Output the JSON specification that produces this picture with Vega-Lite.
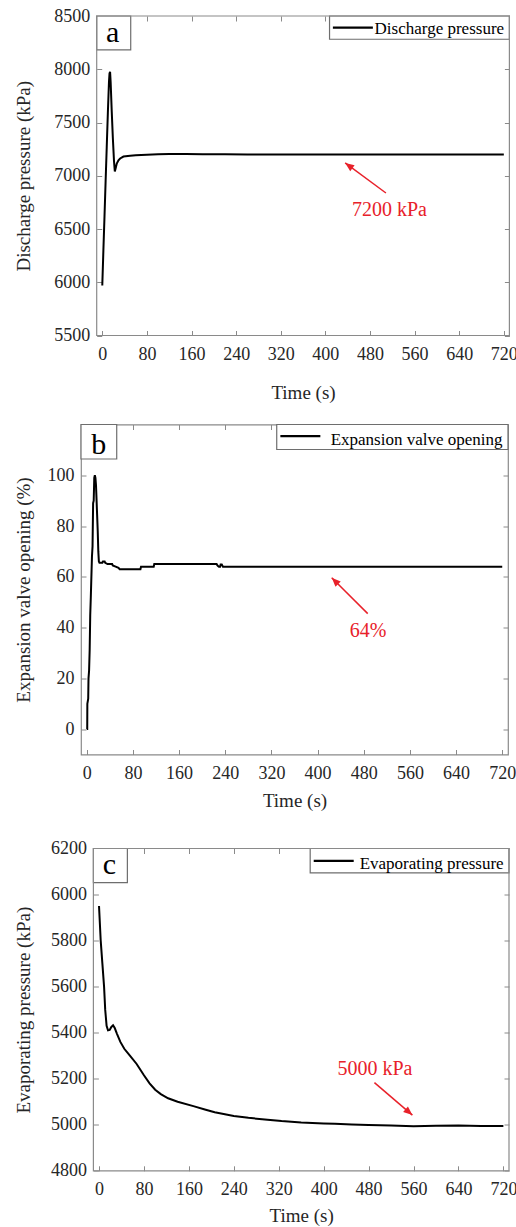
{
  "$schema": "https://vega.github.io/schema/vega-lite/v6.json",
  "background": "white",
  "padding": {"left": 13, "top": 7, "right": 5, "bottom": 5},
  "config": {
    "font": "Liberation Serif",
    "view": {"stroke": "#8a8a8a", "strokeWidth": 1.2},
    "axis": {"grid": false, "domain": false, "tickColor": "#8a8a8a", "tickSize": -5, "tickWidth": 1,
      "labelFontSize": 18, "labelColor": "#262626", "labelFont": "Liberation Serif",
      "titleFontSize": 19, "titleFontWeight": "normal", "titleColor": "#262626", "titleFont": "Liberation Serif",
      "labelFlush": false, "labelOverlap": false, "format": "d"},
    "axisX": {"labelPadding": 15},
    "axisY": {"labelPadding": 12},
    "text": {"font": "Liberation Serif"}
  },
  "datasets": {
    "a": [
      {"t": 0, "v": 5970}, {"t": 2, "v": 6300}, {"t": 4, "v": 6620}, {"t": 6, "v": 6950}, {"t": 8, "v": 7270},
      {"t": 10, "v": 7590}, {"t": 12, "v": 7880}, {"t": 13, "v": 7960}, {"t": 14, "v": 7975}, {"t": 15, "v": 7880},
      {"t": 17, "v": 7600}, {"t": 19, "v": 7350}, {"t": 21, "v": 7140}, {"t": 22.5, "v": 7040}, {"t": 24, "v": 7070},
      {"t": 26, "v": 7115}, {"t": 29, "v": 7145}, {"t": 32, "v": 7162}, {"t": 38, "v": 7180}, {"t": 50, "v": 7188},
      {"t": 60, "v": 7192}, {"t": 80, "v": 7197}, {"t": 100, "v": 7201}, {"t": 120, "v": 7204}, {"t": 150, "v": 7204},
      {"t": 180, "v": 7202}, {"t": 220, "v": 7201}, {"t": 260, "v": 7200}, {"t": 300, "v": 7199}, {"t": 340, "v": 7200},
      {"t": 380, "v": 7200}, {"t": 420, "v": 7199}, {"t": 460, "v": 7200}, {"t": 500, "v": 7200}, {"t": 540, "v": 7199},
      {"t": 580, "v": 7200}, {"t": 620, "v": 7200}, {"t": 660, "v": 7199}, {"t": 700, "v": 7200}, {"t": 720, "v": 7200}
    ],
    "b": [
      {"t": 0, "v": 0}, {"t": 0.8, "v": 0}, {"t": 1, "v": 10}, {"t": 2.5, "v": 12}, {"t": 3, "v": 20}, {"t": 4, "v": 23},
      {"t": 5, "v": 31}, {"t": 6, "v": 45}, {"t": 7, "v": 52}, {"t": 8, "v": 60}, {"t": 9, "v": 68}, {"t": 10, "v": 72},
      {"t": 11, "v": 89}, {"t": 12, "v": 90}, {"t": 13, "v": 99}, {"t": 14, "v": 100}, {"t": 15, "v": 99}, {"t": 16, "v": 96},
      {"t": 17, "v": 90}, {"t": 18, "v": 84}, {"t": 19, "v": 78}, {"t": 20, "v": 70}, {"t": 21, "v": 66}, {"t": 22, "v": 65.5},
      {"t": 27, "v": 65.5}, {"t": 28, "v": 66}, {"t": 31, "v": 66}, {"t": 32, "v": 65.5}, {"t": 36, "v": 65}, {"t": 44, "v": 65},
      {"t": 45, "v": 64.5}, {"t": 50, "v": 64}, {"t": 55, "v": 63.5}, {"t": 57, "v": 63}, {"t": 93, "v": 63}, {"t": 94, "v": 64},
      {"t": 116, "v": 64}, {"t": 117, "v": 65}, {"t": 225, "v": 65}, {"t": 227, "v": 64.3}, {"t": 229, "v": 64}, {"t": 231, "v": 64},
      {"t": 232, "v": 64.8}, {"t": 234, "v": 64.8}, {"t": 236, "v": 64}, {"t": 720, "v": 64}
    ],
    "c": [
      {"t": 0, "v": 5950}, {"t": 3, "v": 5800}, {"t": 6, "v": 5700}, {"t": 9, "v": 5600}, {"t": 11, "v": 5500},
      {"t": 13.5, "v": 5430}, {"t": 16, "v": 5410}, {"t": 19, "v": 5412}, {"t": 22, "v": 5425}, {"t": 25, "v": 5432},
      {"t": 28, "v": 5420}, {"t": 32, "v": 5395}, {"t": 38, "v": 5360}, {"t": 45, "v": 5330}, {"t": 55, "v": 5300},
      {"t": 67, "v": 5264}, {"t": 80, "v": 5215}, {"t": 90, "v": 5180}, {"t": 100, "v": 5152}, {"t": 110, "v": 5133},
      {"t": 123, "v": 5115}, {"t": 140, "v": 5100}, {"t": 168, "v": 5081}, {"t": 190, "v": 5065}, {"t": 206, "v": 5054},
      {"t": 240, "v": 5038}, {"t": 266, "v": 5030}, {"t": 300, "v": 5022}, {"t": 325, "v": 5016}, {"t": 360, "v": 5010},
      {"t": 400, "v": 5006}, {"t": 420, "v": 5004}, {"t": 450, "v": 5001}, {"t": 480, "v": 4999}, {"t": 520, "v": 4997},
      {"t": 560, "v": 4994}, {"t": 600, "v": 4996}, {"t": 640, "v": 4997}, {"t": 680, "v": 4995}, {"t": 720, "v": 4995}
    ]
  },
  "spacing": 19.5,
  "vconcat": [
    {
      "width": 428.4, "height": 319.5,
      "view": {"stroke": null},
      "resolve": {"axis": {"x": "independent", "y": "independent"}},
      "layer": [
        {"data": {"name": "a"}, "mark": {"type": "line", "color": "black", "strokeWidth": 2},
          "encoding": {
            "x": {"field": "t", "type": "quantitative", "scale": {"domain": [-38.15, 730], "nice": false, "zero": false},
              "axis": {"orient": "bottom", "values": [0, 80, 160, 240, 320, 400, 480, 560, 640, 720], "title": "Time (s)", "titlePadding": 20.4, "titleX": 222}},
            "y": {"field": "v", "type": "quantitative", "scale": {"domain": [5500, 8500], "nice": false, "zero": false},
              "axis": {"orient": "left", "offset": -15.7, "values": [5500, 6000, 6500, 7000, 7500, 8000, 8500], "title": "Discharge pressure (kPa)", "titlePadding": 20.3}}}},
        {"data": {"name": "a"}, "mark": {"type": "line", "opacity": 0},
          "encoding": {
            "x": {"field": "t", "type": "quantitative", "axis": {"orient": "top", "values": [0, 80, 160, 240, 320, 400, 480, 560, 640, 720], "labels": false, "title": null}},
            "y": {"field": "v", "type": "quantitative", "axis": {"orient": "right", "values": [5500, 6000, 6500, 7000, 7500, 8000, 8500], "labels": false, "title": null}}}},
        {"data": {"values": [{"x1": -10, "x2": 51, "y1": 8500, "y2": 8181}, {"x1": 407.5, "x2": 730, "y1": 8500, "y2": 8281.6}]},
          "mark": {"type": "rect", "fill": "white", "stroke": "#6e6e6e", "strokeWidth": 1.2},
          "encoding": {"x": {"field": "x1", "type": "quantitative", "axis": null}, "x2": {"field": "x2"}, "y": {"field": "y1", "type": "quantitative", "axis": null}, "y2": {"field": "y2"}}},
        {"data": {"values": [{"x1": -10, "x2": 730, "y1": 5500, "y2": 8500}]},
          "mark": {"type": "rect", "fill": null, "fillOpacity": 0, "stroke": "#8a8a8a", "strokeWidth": 1.2},
          "encoding": {"x": {"field": "x1", "type": "quantitative", "axis": null}, "x2": {"field": "x2"}, "y": {"field": "y1", "type": "quantitative", "axis": null}, "y2": {"field": "y2"}}},
        {"data": {"values": [{"x": 18.7, "y": 8259, "label": "a"}]},
          "mark": {"type": "text", "fontSize": 30, "align": "center", "baseline": "alphabetic", "color": "black"},
          "encoding": {"x": {"field": "x", "type": "quantitative", "axis": null}, "y": {"field": "y", "type": "quantitative", "axis": null}, "text": {"field": "label"}}},
        {"data": {"values": [{"x1": 413.5, "x2": 485.2, "y": 8390}]},
          "mark": {"type": "rule", "color": "black", "strokeWidth": 2.2},
          "encoding": {"x": {"field": "x1", "type": "quantitative", "axis": null}, "x2": {"field": "x2"}, "y": {"field": "y", "type": "quantitative", "axis": null}}},
        {"data": {"values": [{"x": 720.5, "y": 8328.5, "label": "Discharge pressure"}]},
          "mark": {"type": "text", "fontSize": 17, "align": "right", "baseline": "alphabetic", "color": "black"},
          "encoding": {"x": {"field": "x", "type": "quantitative", "axis": null}, "y": {"field": "y", "type": "quantitative", "axis": null}, "text": {"field": "label"}}},
        {"data": {"values": [{"x1": 508.6, "y1": 6838, "x2": 435.5, "y2": 7120}]},
          "mark": {"type": "rule", "color": "#e8212a", "strokeWidth": 1.5},
          "encoding": {"x": {"field": "x1", "type": "quantitative", "axis": null}, "x2": {"field": "x2"}, "y": {"field": "y1", "type": "quantitative", "axis": null}, "y2": {"field": "y2"}}},
        {"data": {"values": [{"x": 435.5, "y": 7120}]},
          "mark": {"type": "point", "shape": "M0,0L-0.45,1.1L0.45,1.1Z", "size": 270, "filled": true, "color": "#e8212a", "opacity": 1, "angle": 306.4},
          "encoding": {"x": {"field": "x", "type": "quantitative", "axis": null}, "y": {"field": "y", "type": "quantitative", "axis": null}}},
        {"data": {"values": [{"x": 514.8, "y": 6619, "label": "7200 kPa"}]},
          "mark": {"type": "text", "fontSize": 20, "align": "center", "baseline": "alphabetic", "color": "#e8212a"},
          "encoding": {"x": {"field": "x", "type": "quantitative", "axis": null}, "y": {"field": "y", "type": "quantitative", "axis": null}, "text": {"field": "label"}}}
      ]
    },
    {
      "spacing": 28,
      "vconcat": [
        {
          "width": 427, "height": 330,
          "resolve": {"axis": {"x": "independent", "y": "independent"}},
          "layer": [
            {"data": {"name": "b"}, "mark": {"type": "line", "color": "black", "strokeWidth": 2},
              "encoding": {
                "x": {"field": "t", "type": "quantitative", "scale": {"domain": [-10, 730], "nice": false, "zero": false},
                  "axis": {"orient": "bottom", "values": [0, 80, 160, 240, 320, 400, 480, 560, 640, 720], "title": "Time (s)", "titlePadding": 9.1}},
                "y": {"field": "v", "type": "quantitative", "scale": {"domain": [-10, 120], "nice": false, "zero": false},
                  "axis": {"orient": "left", "values": [0, 20, 40, 60, 80, 100], "title": "Expansion valve opening (%)", "titlePadding": 13.6}}}},
            {"data": {"name": "b"}, "mark": {"type": "line", "opacity": 0},
              "encoding": {
                "x": {"field": "t", "type": "quantitative", "axis": {"orient": "top", "values": [0, 80, 160, 240, 320, 400, 480, 560, 640, 720], "labels": false, "title": null}},
                "y": {"field": "v", "type": "quantitative", "axis": {"orient": "right", "values": [0, 20, 40, 60, 80, 100], "labels": false, "title": null}}}},
            {"data": {"values": [{"x1": -10, "x2": 51.9, "y1": 120, "y2": 106.4}, {"x1": 329.2, "x2": 730, "y1": 120, "y2": 110.15}]},
              "mark": {"type": "rect", "fill": "white", "stroke": "#6e6e6e", "strokeWidth": 1.2},
              "encoding": {"x": {"field": "x1", "type": "quantitative", "axis": null}, "x2": {"field": "x2"}, "y": {"field": "y1", "type": "quantitative", "axis": null}, "y2": {"field": "y2"}}},
            {"data": {"values": [{"x": 20.8, "y": 108.2, "label": "b"}]},
              "mark": {"type": "text", "fontSize": 30, "align": "center", "baseline": "alphabetic", "color": "black"},
              "encoding": {"x": {"field": "x", "type": "quantitative", "axis": null}, "y": {"field": "y", "type": "quantitative", "axis": null}, "text": {"field": "label"}}},
            {"data": {"values": [{"x1": 335.5, "x2": 404.8, "y": 115.4}]},
              "mark": {"type": "rule", "color": "black", "strokeWidth": 2.2},
              "encoding": {"x": {"field": "x1", "type": "quantitative", "axis": null}, "x2": {"field": "x2"}, "y": {"field": "y", "type": "quantitative", "axis": null}}},
            {"data": {"values": [{"x": 720.5, "y": 112.1, "label": "Expansion valve opening"}]},
              "mark": {"type": "text", "fontSize": 17, "align": "right", "baseline": "alphabetic", "color": "black"},
              "encoding": {"x": {"field": "x", "type": "quantitative", "axis": null}, "y": {"field": "y", "type": "quantitative", "axis": null}, "text": {"field": "label"}}},
            {"data": {"values": [{"x1": 486.9, "y1": 45.5, "x2": 424.5, "y2": 59.6}]},
              "mark": {"type": "rule", "color": "#e8212a", "strokeWidth": 1.5},
              "encoding": {"x": {"field": "x1", "type": "quantitative", "axis": null}, "x2": {"field": "x2"}, "y": {"field": "y1", "type": "quantitative", "axis": null}, "y2": {"field": "y2"}}},
            {"data": {"values": [{"x": 424.5, "y": 59.6}]},
              "mark": {"type": "point", "shape": "M0,0L-0.45,1.1L0.45,1.1Z", "size": 270, "filled": true, "color": "#e8212a", "opacity": 1, "angle": 314.9},
              "encoding": {"x": {"field": "x", "type": "quantitative", "axis": null}, "y": {"field": "y", "type": "quantitative", "axis": null}}},
            {"data": {"values": [{"x": 487.4, "y": 36.2, "label": "64%"}]},
              "mark": {"type": "text", "fontSize": 20, "align": "center", "baseline": "alphabetic", "color": "#e8212a"},
              "encoding": {"x": {"field": "x", "type": "quantitative", "axis": null}, "y": {"field": "y", "type": "quantitative", "axis": null}, "text": {"field": "label"}}}
          ]
        },
        {
          "width": 428, "height": 322.3,
          "view": {"stroke": null},
          "resolve": {"axis": {"x": "independent", "y": "independent"}},
          "layer": [
            {"data": {"name": "c"}, "mark": {"type": "line", "color": "black", "strokeWidth": 2},
              "encoding": {
                "x": {"field": "t", "type": "quantitative", "scale": {"domain": [-32.08, 730], "nice": false, "zero": false},
                  "axis": {"orient": "bottom", "values": [0, 80, 160, 240, 320, 400, 480, 560, 640, 720], "title": "Time (s)", "titlePadding": 7.7, "titleX": 220.2}},
                "y": {"field": "v", "type": "quantitative", "scale": {"domain": [4800, 6200], "nice": false, "zero": false},
                  "axis": {"orient": "left", "offset": -12.4, "values": [4800, 5000, 5200, 5400, 5600, 5800, 6000, 6200], "title": "Evaporating pressure (kPa)", "titlePadding": 17}}}},
            {"data": {"name": "c"}, "mark": {"type": "line", "opacity": 0},
              "encoding": {
                "x": {"field": "t", "type": "quantitative", "axis": {"orient": "top", "values": [0, 80, 160, 240, 320, 400, 480, 560, 640, 720], "labels": false, "title": null}},
                "y": {"field": "v", "type": "quantitative", "axis": {"orient": "right", "values": [4800, 5000, 5200, 5400, 5600, 5800, 6000, 6200], "labels": false, "title": null}}}},
            {"data": {"values": [{"x1": -10, "x2": 50.5, "y1": 6200, "y2": 6052}, {"x1": 376, "x2": 730, "y1": 6200, "y2": 6094}]},
              "mark": {"type": "rect", "fill": "white", "stroke": "#6e6e6e", "strokeWidth": 1.2},
              "encoding": {"x": {"field": "x1", "type": "quantitative", "axis": null}, "x2": {"field": "x2"}, "y": {"field": "y1", "type": "quantitative", "axis": null}, "y2": {"field": "y2"}}},
            {"data": {"values": [{"x1": -10, "x2": 730, "y1": 4800, "y2": 6200}]},
              "mark": {"type": "rect", "fill": null, "fillOpacity": 0, "stroke": "#8a8a8a", "strokeWidth": 1.2},
              "encoding": {"x": {"field": "x1", "type": "quantitative", "axis": null}, "x2": {"field": "x2"}, "y": {"field": "y1", "type": "quantitative", "axis": null}, "y2": {"field": "y2"}}},
            {"data": {"values": [{"x": 18.7, "y": 6089, "label": "c"}]},
              "mark": {"type": "text", "fontSize": 30, "align": "center", "baseline": "alphabetic", "color": "black"},
              "encoding": {"x": {"field": "x", "type": "quantitative", "axis": null}, "y": {"field": "y", "type": "quantitative", "axis": null}, "text": {"field": "label"}}},
            {"data": {"values": [{"x1": 382.3, "x2": 453.5, "y": 6146.5}]},
              "mark": {"type": "rule", "color": "black", "strokeWidth": 2.2},
              "encoding": {"x": {"field": "x1", "type": "quantitative", "axis": null}, "x2": {"field": "x2"}, "y": {"field": "y", "type": "quantitative", "axis": null}}},
            {"data": {"values": [{"x": 720.5, "y": 6112, "label": "Evaporating pressure"}]},
              "mark": {"type": "text", "fontSize": 17, "align": "right", "baseline": "alphabetic", "color": "black"},
              "encoding": {"x": {"field": "x", "type": "quantitative", "axis": null}, "y": {"field": "y", "type": "quantitative", "axis": null}, "text": {"field": "label"}}},
            {"data": {"values": [{"x1": 490.4, "y1": 5183, "x2": 558, "y2": 5042}]},
              "mark": {"type": "rule", "color": "#e8212a", "strokeWidth": 1.5},
              "encoding": {"x": {"field": "x1", "type": "quantitative", "axis": null}, "x2": {"field": "x2"}, "y": {"field": "y1", "type": "quantitative", "axis": null}, "y2": {"field": "y2"}}},
            {"data": {"values": [{"x": 558, "y": 5042}]},
              "mark": {"type": "point", "shape": "M0,0L-0.45,1.1L0.45,1.1Z", "size": 270, "filled": true, "color": "#e8212a", "opacity": 1, "angle": 130.4},
              "encoding": {"x": {"field": "x", "type": "quantitative", "axis": null}, "y": {"field": "y", "type": "quantitative", "axis": null}}},
            {"data": {"values": [{"x": 491.4, "y": 5216, "label": "5000 kPa"}]},
              "mark": {"type": "text", "fontSize": 20, "align": "center", "baseline": "alphabetic", "color": "#e8212a"},
              "encoding": {"x": {"field": "x", "type": "quantitative", "axis": null}, "y": {"field": "y", "type": "quantitative", "axis": null}, "text": {"field": "label"}}}
          ]
        }
      ]
    }
  ]
}
